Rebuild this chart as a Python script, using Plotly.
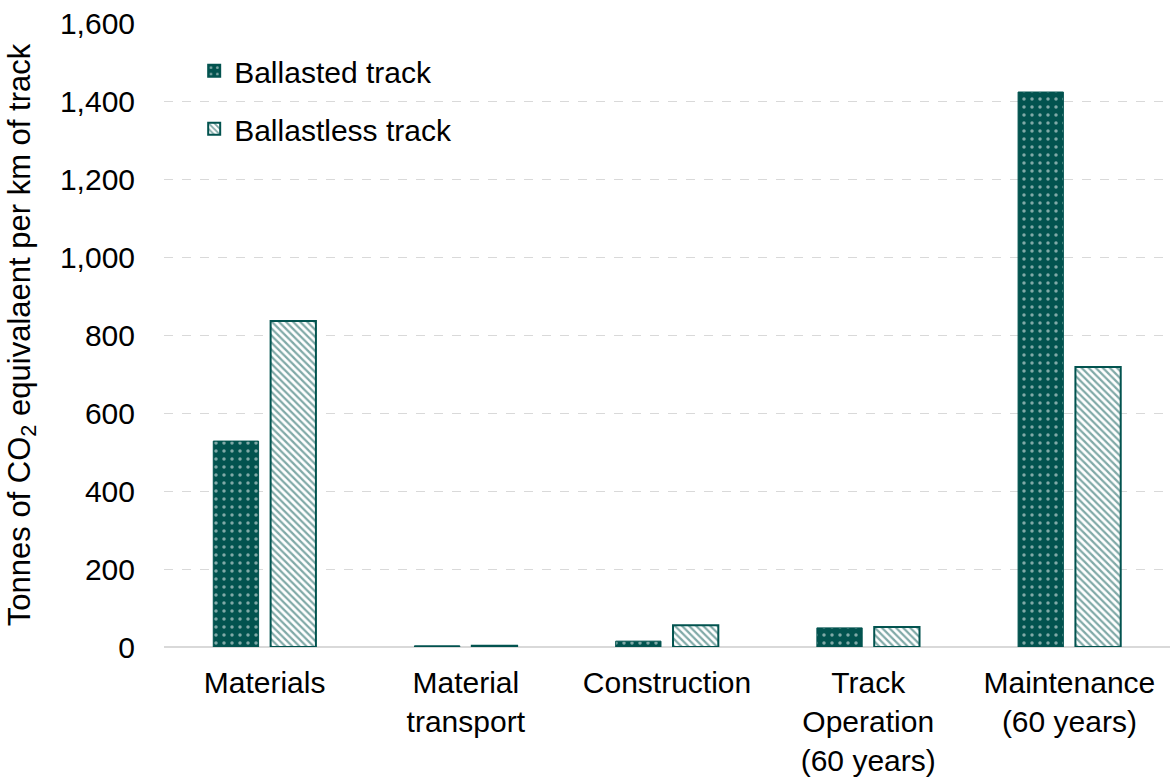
import plotly.graph_objects as go

categories = ["Materials", "Material<br>transport", "Construction", "Track<br>Operation<br>(60 years)", "Maintenance<br>(60 years)"]
ballasted = [528, 3, 15, 49, 1423]
ballastless = [836, 3, 56, 51, 718]
y_ticks = [0, 200, 400, 600, 800, 1000, 1200, 1400, 1600]
y_tick_labels = ["0", "200", "400", "600", "800", "1,000", "1,200", "1,400", "1,600"]

teal = "#02534F"
font_family = "Liberation Sans, Arial, sans-serif"

fig = go.Figure()
fig.add_trace(go.Bar(
    x=categories, y=ballasted, name="Ballasted track", legendgroup="a",
    marker=dict(color=teal, line=dict(color=teal, width=1),
                pattern=dict(shape=".", fgcolor="white", bgcolor=teal, size=8, solidity=0.15, fillmode="overlay")),
))
fig.add_trace(go.Bar(
    x=categories, y=ballastless, name="Ballastless track", legendgroup="b",
    marker=dict(color="white", line=dict(color=teal, width=2),
                pattern=dict(shape="\\", fgcolor=teal, bgcolor="white", size=5, solidity=0.45, fillmode="overlay")),
))

fig.update_layout(
    width=1171, height=780,
    margin=dict(l=164, r=1, t=23, b=133),
    paper_bgcolor="white", plot_bgcolor="white",
    barmode="group", bargap=0.43, bargroupgap=0.21,
    font=dict(family=font_family, size=30, color="#000000"),
    legend=dict(x=0.03, y=0.965, xanchor="left", yanchor="top",
                bgcolor="rgba(0,0,0,0)", font=dict(size=30), itemsizing="constant",
                tracegroupgap=16),
    showlegend=True,
)
fig.update_xaxes(showgrid=False, showline=False, ticks="", tickfont=dict(size=30), automargin=False,
                 tickangle=0, ticklabelstandoff=15)
fig.update_yaxes(
    range=[0, 1600], tickvals=y_ticks, ticktext=y_tick_labels,
    showgrid=True, gridcolor="#D9D9D9", griddash="dash", gridwidth=1,
    zeroline=True, zerolinecolor="#D9D9D9", zerolinewidth=2,
    showline=False, ticks="", tickfont=dict(size=30), ticklabelstandoff=28,
    automargin=False,
    title=dict(text="Tonnes of CO<sub>2</sub> equivalaent per km of track", font=dict(size=31), standoff=20),
)

fig.write_html("out.html", config={"displayModeBar": False},
               post_script="document.body.style.margin='0';")
